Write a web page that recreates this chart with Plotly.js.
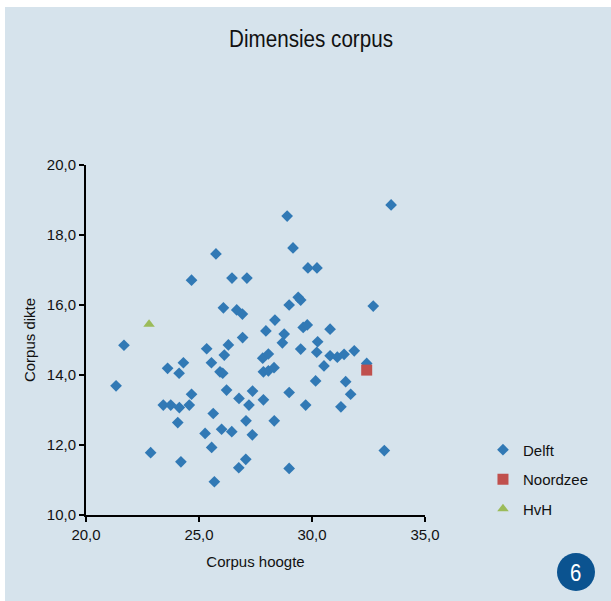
<!DOCTYPE html>
<html>
<head>
<meta charset="utf-8">
<script src="https://cdn.plot.ly/plotly-3.0.1.min.js"></script>
<style>
html,body{margin:0;padding:0;background:#ffffff;}
#chart{position:absolute;left:5px;top:7px;width:606px;height:594px;}
</style>
</head>
<body>
<div id="chart"></div>
<script>
// Delft
const delftX = [33.5, 28.9, 25.75, 29.16, 26.46, 27.12, 29.82, 30.22, 24.67, 26.08,
  26.67, 26.92, 26.93, 21.68, 25.34, 26.30, 26.12, 25.55, 25.93, 26.05,
  24.31, 23.61, 24.12, 21.33, 24.67, 23.42, 23.75, 24.13, 24.57, 26.22,
  27.37, 26.77, 27.21, 27.85, 25.63, 24.06, 27.08, 25.27, 26.0, 26.45,
  27.36, 25.56, 22.86, 24.2, 27.07, 26.76, 25.68, 28.69, 29.5, 30.25,
  30.21, 30.8, 31.12, 31.42, 31.87, 27.82, 28.07, 27.85, 28.07, 28.32,
  32.42, 30.53, 30.16, 31.49, 28.99, 31.71, 29.72, 31.28, 28.33, 33.2,
  28.99, 29.39, 29.5, 28.99, 32.71, 28.36, 27.96, 29.61, 29.79, 30.8, 28.77];
const delftY = [18.86, 18.54, 17.46, 17.63, 16.77, 16.77, 17.06, 17.06, 16.71, 15.92,
  15.86, 15.74, 15.07, 14.85, 14.75, 14.86, 14.57, 14.35, 14.09, 14.05,
  14.35, 14.19, 14.05, 13.69, 13.45, 13.14, 13.14, 13.07, 13.14, 13.57,
  13.54, 13.33, 13.14, 13.29, 12.90, 12.64, 12.69, 12.33, 12.45, 12.38,
  12.29, 11.93, 11.78, 11.52, 11.59, 11.35, 10.95, 14.92, 14.74, 14.95,
  14.65, 14.55, 14.51, 14.59, 14.69, 14.48, 14.6, 14.09, 14.12, 14.21,
  14.33, 14.26, 13.83, 13.81, 13.5, 13.45, 13.14, 13.09, 12.69, 11.84,
  11.33, 16.22, 16.14, 16.0, 15.97, 15.57, 15.26, 15.36, 15.43, 15.31, 15.17];
// Noordzee
const noordzeeX = [32.42];
const noordzeeY = [14.14];
// HvH
const hvhX = [22.79];
const hvhY = [15.45];

const seriesNames = ["Delft", "Noordzee", "HvH"];
const xTicks = [20, 25, 30, 35];
const yTicks = [10, 12, 14, 16, 18, 20];

const bg = "#d6e3ec";
const sans = "'Liberation Sans', Arial, sans-serif";

const traces = [
  {x: delftX, y: delftY, name: seriesNames[0], type: "scatter", mode: "markers", legendgroup: "a",
   marker: {symbol: "diamond", size: 9, color: "#3179b5"}},
  {x: noordzeeX, y: noordzeeY, name: seriesNames[1], type: "scatter", mode: "markers", legendgroup: "b",
   marker: {symbol: "square", size: 11, color: "#c0504d"}},
  {x: hvhX, y: hvhY, name: seriesNames[2], type: "scatter", mode: "markers", legendgroup: "c",
   marker: {symbol: "triangle-up", size: 10, color: "#9bbb59"}}
];

const layout = {
  width: 606, height: 594,
  paper_bgcolor: bg, plot_bgcolor: bg,
  margin: {l: 81, r: 186, t: 158, b: 86},
  separators: ",.",
  font: {family: sans, size: 15, color: "#111111"},
  title: {text: "Dimensies corpus", font: {family: sans, size: 24, color: "#111111"},
          xref: "container", x: 0.505, xanchor: "center", yref: "container", y: 0.946, yanchor: "middle"},
  xaxis: {range: [20, 35], tickvals: xTicks, tickformat: ".1f", showgrid: false, zeroline: false,
          showline: true, linecolor: "#000000", linewidth: 2, ticks: "outside", ticklen: 5, tickwidth: 2,
          tickcolor: "#000000", tickfont: {family: sans, size: 15, color: "#111111"},
          title: {text: "Corpus hoogte", font: {family: sans, size: 15, color: "#111111"}, standoff: 14}},
  yaxis: {range: [10, 20], tickvals: yTicks, tickformat: ".1f", showgrid: false, zeroline: false,
          showline: true, linecolor: "#000000", linewidth: 2, ticks: "outside", ticklen: 5, tickwidth: 2,
          tickcolor: "#000000", tickfont: {family: sans, size: 15, color: "#111111"},
          title: {text: "Corpus dikte", font: {family: sans, size: 15, color: "#111111"}, standoff: 8}},
  showlegend: true,
  legend: {x: 1.171, xanchor: "left", y: 0.233, yanchor: "top", bgcolor: "rgba(0,0,0,0)",
           font: {family: sans, size: 15, color: "#111111"}, tracegroupgap: 7, traceorder: "grouped"},
  shapes: [{type: "circle", xref: "paper", yref: "paper", xsizemode: "pixel", ysizemode: "pixel",
            xanchor: 1.4454, yanchor: -0.163, x0: -19, x1: 19, y0: -19, y1: 19,
            fillcolor: "#0b5390", line: {width: 0}}],
  annotations: [{text: "6", xref: "paper", yref: "paper", x: 1.4454, y: -0.163, xanchor: "center", yanchor: "middle",
                 showarrow: false, font: {family: sans, size: 24, color: "#ffffff"}}]
};

Plotly.newPlot("chart", traces, layout, {staticPlot: true, displayModeBar: false}).then(function () {
  // condense the title text to mimic the narrow typeface of the original
  const t = document.querySelector("#chart .gtitle");
  if (t) {
    const b = t.getBBox();
    const cx = b.x + b.width / 2;
    t.setAttribute("transform", "translate(" + cx + ",0) scale(0.86,1) translate(" + (-cx) + ",0)");
  }
  const a = document.querySelector("#chart .annotation-text");
  if (a) {
    const b = a.getBBox();
    const cx = b.x + b.width / 2;
    a.setAttribute("transform", "translate(" + cx + ",0) scale(0.85,1) translate(" + (-cx) + ",0)");
  }
});
</script>
</body>
</html>
